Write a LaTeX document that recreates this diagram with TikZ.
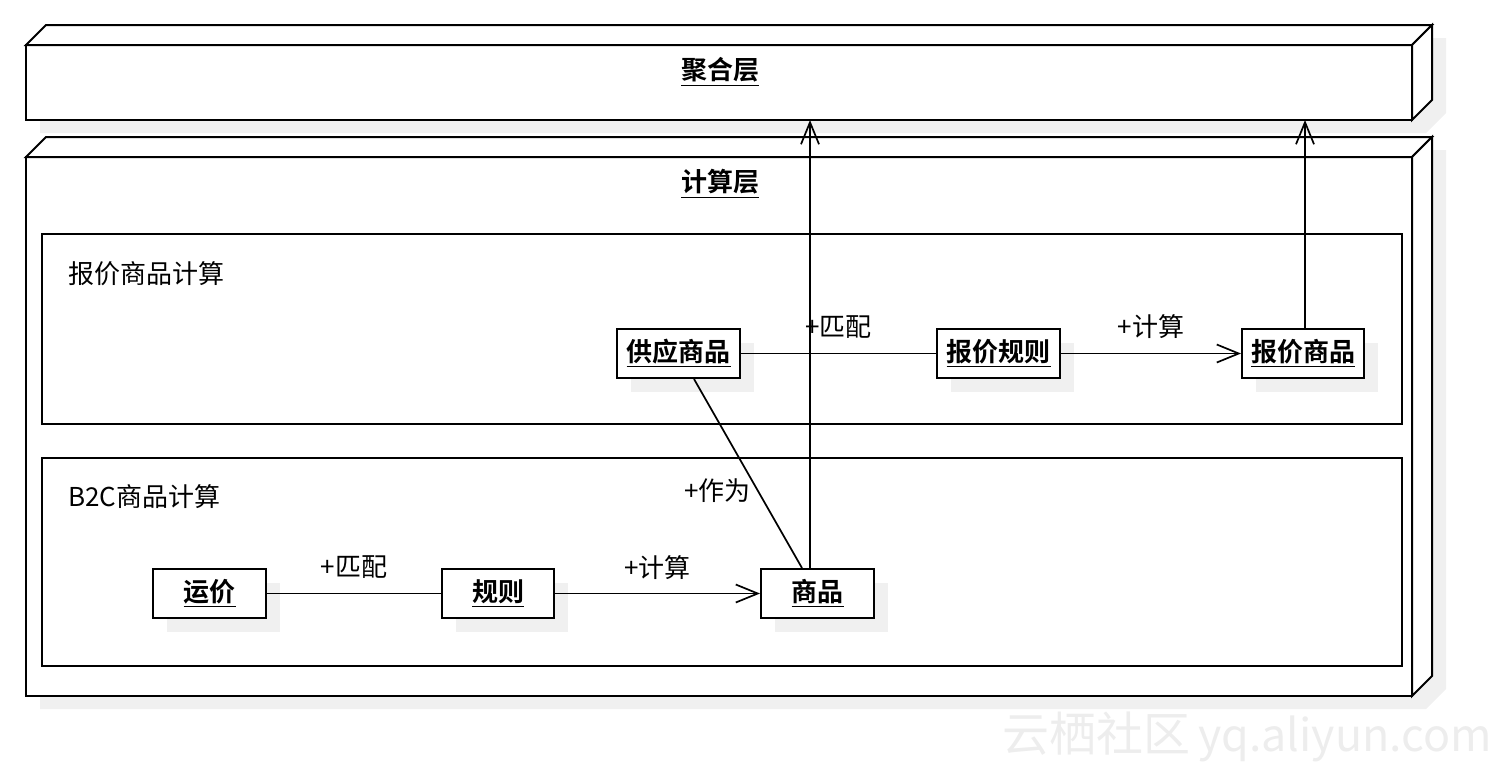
\documentclass[tikz,border=0pt]{standalone}
\usepackage{fontspec}
\setmainfont{Noto Sans CJK SC}[BoldFont={Noto Sans CJK SC Bold}]
\usetikzlibrary{arrows.meta,shadows}

% a layer drawn as a 3D box: front face (x1,y1)-(x2,y2), depth 20px up-right
\newcommand{\layerbox}[4]{%
  \fill[black!6] (#1+14,#2+13) -- (#1+34,#2-7) -- (#3+34,#2-7) -- (#3+34,#4-7)
    -- (#3+14,#4+13) -- (#1+14,#4+13) -- cycle;
  \draw[frame, fill=white] (#1,#2) rectangle (#3,#4);
  \draw[frame, fill=white] (#1,#2) -- (#1+20,#2-20) -- (#3+20,#2-20) -- (#3,#2) -- cycle;
  \draw[frame, fill=white] (#3,#2) -- (#3+20,#2-20) -- (#3+20,#4-20) -- (#3,#4) -- cycle;
}

\begin{document}
\begin{tikzpicture}[x=0.5pt, y=-0.5pt, line join=miter,
    font=\fontsize{13}{15.6}\selectfont,
    frame/.style={line width=1pt},
    obj/.style={draw, line width=1pt, fill=white, minimum height=24.5pt, inner sep=0pt,
      font=\fontsize{13}{15.6}\selectfont\bfseries,
      drop shadow={shadow xshift=7pt, shadow yshift=-7pt, fill=black!6, opacity=1}},
    assoc/.style={line width=0.85pt},
    nav/.style={assoc, -{Straight Barb[length=11pt, width=9pt]}}]

    % page size of the reference
    \useasboundingbox (0,0) rectangle (1508,772);

    % The two layers
    \layerbox{26}{45}{1412}{120}
    \layerbox{26}{157}{1412}{696}
    \coordinate (aggbase) at (0,120);

    \node[font=\fontsize{13}{15.6}\selectfont\bfseries] (aggtitle) at (720,72) {\underline{聚合层}};
    \node[font=\fontsize{13}{15.6}\selectfont\bfseries] (calctitle) at (720,184) {\underline{计算层}};

    % Inner frames
    \draw[frame] (42,234) rectangle (1402,424);
    \draw[frame] (42,458) rectangle (1402,666);
    \node[anchor=west, inner sep=0pt] (quotelabel) at (68,274) {报价商品计算};
    \node[anchor=west, inner sep=0pt] (b2clabel) at (68,497) {B2C商品计算};

    % Objects
    \node[obj, minimum width=61.5pt] (supply) at (678.5,353.5) {\underline{供应商品}};
    \node[obj, minimum width=61.5pt] (quoterule) at (998.5,353.5) {\underline{报价规则}};
    \node[obj, minimum width=61pt] (quotegoods) at (1303,353.5) {\underline{报价商品}};
    \node[obj, minimum width=56.5pt] (freight) at (209.5,593.5) {\underline{运价}};
    \node[obj, minimum width=56pt] (rule) at (498,593.5) {\underline{规则}};
    \node[obj, minimum width=56.5pt] (goods) at (817.5,593.5) {\underline{商品}};

    % Associations
    \draw[assoc] (supply) -- (quoterule) node[midway, yshift=13pt] {+匹配};
    \draw[nav] (quoterule) -- (quotegoods) node[midway, yshift=13.5pt] {+计算};
    \draw[assoc] (freight) -- (rule) node[midway, yshift=13pt] {+匹配};
    \draw[nav] (rule) -- (goods) node[midway, yshift=13pt] {+计算};
    \draw[assoc] ([xshift=7.75pt]supply.south) -- ([xshift=-7.75pt]goods.north)
        node[pos=0.59, anchor=east, inner sep=0pt, xshift=-3pt] {+作为};

    % up to the aggregation layer
    \draw[nav] ([xshift=-3.75pt]goods.north) -- ([xshift=-3.75pt]goods.north |- aggbase);
    \draw[nav] ([xshift=1pt]quotegoods.north) -- ([xshift=1pt]quotegoods.north |- aggbase);

    % watermark
    \node[anchor=west, inner sep=0pt, text=black!7, font=\fontsize{23.5}{28}\selectfont] (watermark) at (1002,737)
        {云栖社区\,{\fontsize{22.4}{28}\selectfont yq.aliyun.com}};
\end{tikzpicture}
\end{document}
